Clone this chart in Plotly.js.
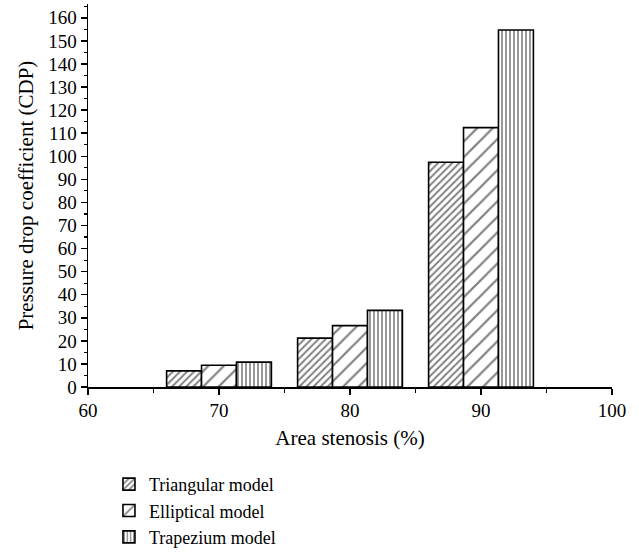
<!DOCTYPE html>
<html>
<head>
<meta charset="utf-8">
<script src="https://cdn.plot.ly/plotly-3.0.1.min.js"></script>
<style>html,body{margin:0;padding:0;background:#fff;}#chart{width:639px;height:554px;}</style>
</head>
<body>
<div id="chart"></div>
<script>
var stenosis = [70, 80, 90];
var triangular = [7, 21.2, 97.4];
var elliptical = [9.4, 26.6, 112.4];
var trapezium = [10.8, 33.2, 154.7];
var seriesNames = ["Triangular model", "Elliptical model", "Trapezium model"];

var font = "Liberation Serif, Times New Roman, serif";
function bar(name, y, shape, size, solidity) {
  return {
    type: "bar", name: name, x: stenosis, y: y,
    marker: {
      color: "white",
      line: {color: "black", width: 1.6},
      pattern: {shape: shape, size: size, solidity: solidity, fgcolor: "black", bgcolor: "white", fillmode: "overlay"}
    }
  };
}
var data = [
  bar(seriesNames[0], triangular, "/", 5, 0.38),
  bar(seriesNames[1], elliptical, "/", 11, 0.2),
  bar(seriesNames[2], trapezium, "|", 4, 0.4)
];
var layout = {
  width: 639, height: 554,
  margin: {l: 88, r: 27, t: 4, b: 167, autoexpand: false},
  paper_bgcolor: "white", plot_bgcolor: "white",
  font: {family: font, size: 19, color: "black"},
  barmode: "group", bargap: 0.2, bargroupgap: 0,
  xaxis: {
    range: [60, 100], dtick: 10, tick0: 60,
    showgrid: false, zeroline: false, automargin: false,
    showline: true, linecolor: "black", linewidth: 1.5,
    ticks: "outside", ticklen: 6, tickwidth: 1.5, tickcolor: "black",
    minor: {dtick: 5, ticks: "outside", ticklen: 4, tickwidth: 1.2, tickcolor: "black"},
    tickfont: {family: font, size: 19},
    title: {text: "Area stenosis (%)", font: {family: font, size: 21}, standoff: 10}
  },
  yaxis: {
    range: [0, 166], dtick: 10, tick0: 0,
    showgrid: false, zeroline: false, automargin: false,
    showline: true, linecolor: "black", linewidth: 1.5,
    ticks: "outside", ticklen: 6, tickwidth: 1.5, tickcolor: "black",
    minor: {dtick: 5, ticks: "outside", ticklen: 3, tickwidth: 1.2, tickcolor: "black"},
    tickfont: {family: font, size: 19},
    title: {text: "Pressure drop coefficient (CDP)", font: {family: font, size: 21}, standoff: 9}
  },
  legend: {
    x: 0.04, xanchor: "left", y: -0.206, yanchor: "top",
    font: {family: font, size: 18},
    bgcolor: "rgba(0,0,0,0)", traceorder: "normal"
  },
  showlegend: true
};
Plotly.newPlot("chart", data, layout, {displayModeBar: false, staticPlot: true});
</script>
</body>
</html>
